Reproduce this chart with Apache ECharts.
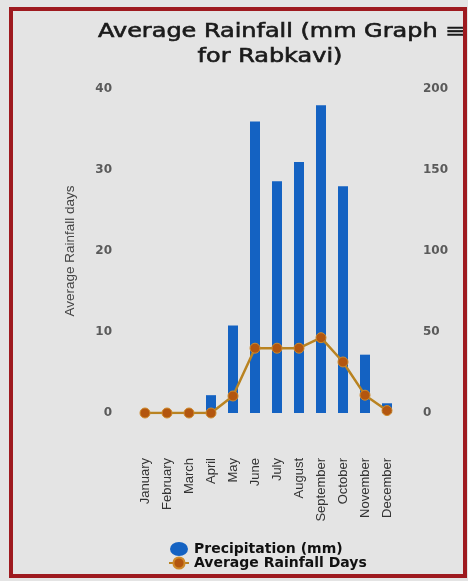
<!DOCTYPE html>
<html>
<head>
<meta charset="utf-8">
<script src="https://cdn.jsdelivr.net/npm/echarts@6/dist/echarts.min.js"></script>
<style>
  html, body { margin: 0; padding: 0; background: #e6e6e6; }
  #chart { width: 468px; height: 581px; }
</style>
</head>
<body>
<div id="chart"></div>
<script>
// Monthly climate data for Rabkavi
const months = ['January', 'February', 'March', 'April', 'May', 'June', 'July',
  'August', 'September', 'October', 'November', 'December'];
const precipitation = [0, 0, 0, 11, 54, 180, 143, 155, 190, 140, 36, 6];
const rainfallDays = [0, 0, 0, 0, 2.1, 8, 8, 8, 9.3, 6.3, 2.2, 0.3];
const daysTicks = { min: 0, max: 40, interval: 10 };
const precipTicks = { min: 0, max: 200, interval: 50 };
const titleLines = ['Average Rainfall (mm Graph \u2261', 'for Rabkavi)'];

const chart = echarts.init(document.getElementById('chart'), null, { renderer: 'canvas' });

const titleFont = 'normal 19px "DejaVu Sans"';

chart.setOption({
  backgroundColor: '#e4e4e4',
  animation: false,
  grid: { left: 134, right: 70, top: 89, bottom: 168 },
  legend: {
    orient: 'vertical',
    left: 163, top: 537,
    itemGap: 0,
    itemWidth: 20, itemHeight: 14,
    textStyle: { fontFamily: 'DejaVu Sans', fontSize: 14, fontWeight: 'bold', color: '#111' },
    data: [
      { name: 'Precipitation (mm)', icon: 'path://M0,7A9,7,0,1,0,18,7A9,7,0,1,0,0,7Z' },
      { name: 'Average Rainfall Days' }
    ]
  },
  xAxis: {
    type: 'category',
    data: months,
    axisLine: { show: false },
    axisTick: { show: false },
    axisLabel: {
      rotate: 90, interval: 0, margin: 45,
      fontFamily: 'Liberation Sans', fontSize: 13, color: '#333'
    }
  },
  yAxis: [
    {
      type: 'value',
      min: daysTicks.min, max: daysTicks.max, interval: daysTicks.interval,
      name: 'Average Rainfall days',
      nameLocation: 'middle', nameGap: 57, nameRotate: 90,
      nameTextStyle: { fontFamily: 'Liberation Sans', fontSize: 13.5, color: '#444' },
      axisLine: { show: false }, axisTick: { show: false },
      splitLine: { show: false },
      axisLabel: { margin: 22, fontFamily: 'DejaVu Sans', fontSize: 12, fontWeight: 'bold', color: '#5a5a5a' }
    },
    {
      type: 'value',
      min: precipTicks.min, max: precipTicks.max, interval: precipTicks.interval,
      axisLine: { show: false }, axisTick: { show: false },
      splitLine: { show: false },
      axisLabel: { margin: 25, fontFamily: 'DejaVu Sans', fontSize: 12, fontWeight: 'bold', color: '#5a5a5a' }
    }
  ],
  series: [
    {
      name: 'Precipitation (mm)',
      type: 'bar',
      yAxisIndex: 1,
      data: precipitation,
      barWidth: 10,
      itemStyle: { color: '#1462c2' }
    },
    {
      name: 'Average Rainfall Days',
      type: 'line',
      yAxisIndex: 0,
      data: rainfallDays,
      symbol: 'circle',
      symbolSize: 10,
      lineStyle: { color: '#b98321', width: 2.5 },
      itemStyle: { color: '#b3560f', borderColor: '#cf8a2a', borderWidth: 1 }
    }
  ],
  graphic: [
    {
      type: 'text',
      x: 98, y: 23, scaleX: 1.26,
      style: {
        text: titleLines[0], font: titleFont, fill: '#1a1a1a',
        stroke: '#1a1a1a', lineWidth: 0.6,
        textAlign: 'left', textVerticalAlign: 'top'
      }
    },
    {
      type: 'text',
      x: 270, y: 48, scaleX: 1.26,
      style: {
        text: titleLines[1], font: titleFont, fill: '#1a1a1a',
        stroke: '#1a1a1a', lineWidth: 0.6,
        textAlign: 'center', textVerticalAlign: 'top'
      }
    },
    {
      type: 'rect',
      z: 100,
      shape: { x: 11, y: 9, width: 454, height: 567 },
      style: { fill: null, stroke: '#9e1a1f', lineWidth: 4 }
    }
  ]
});
</script>
</body>
</html>
